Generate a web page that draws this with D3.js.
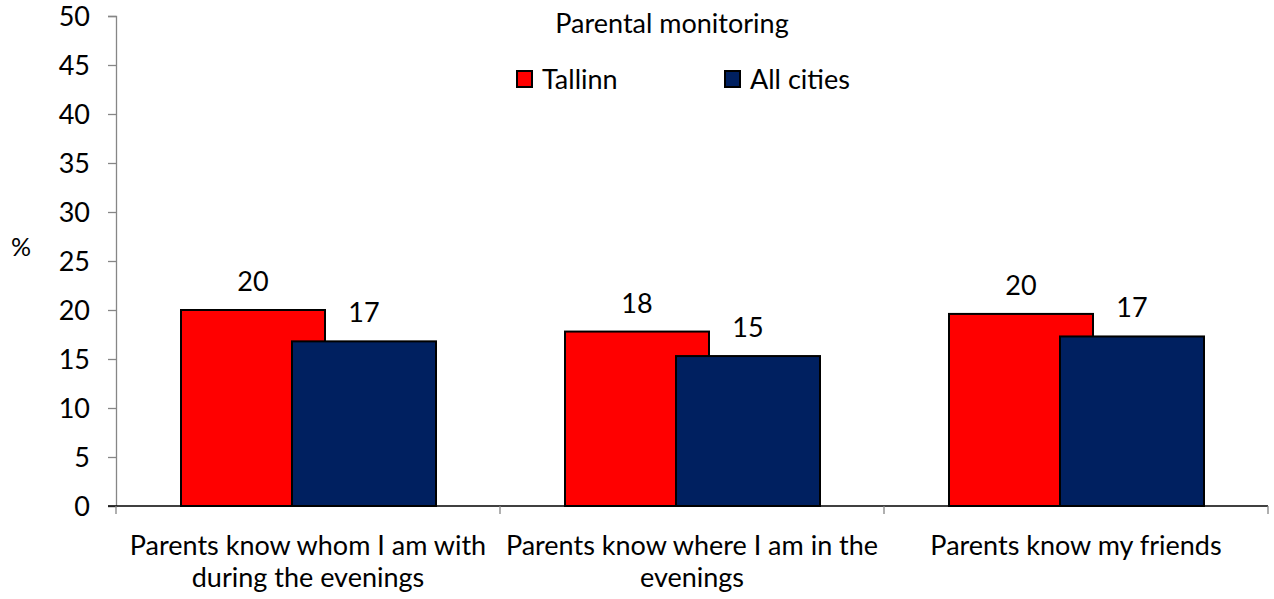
<!DOCTYPE html>
<html>
<head>
<meta charset="utf-8">
<script src="https://cdn.jsdelivr.net/npm/d3@7"></script>
<style>
  body { margin: 0; background: #fff; }
  text { font-family: Lato, "Noto Sans", sans-serif; fill: #000; }
</style>
</head>
<body>
<div id="container"></div>
<script>
const categories = [
  ["Parents know whom I am with", "during the evenings"],
  ["Parents know where I am in the", "evenings"],
  ["Parents know my friends"]
];
const seriesNames = ["Tallinn", "All cities"];
const tallinn = [20.0, 17.8, 19.6];
const allCities = [16.8, 15.3, 17.3];
const yTicks = [0, 5, 10, 15, 20, 25, 30, 35, 40, 45, 50];
const colors = ["#ff0000", "#002060"];

const width = 1274;
const height = 599;
const plotLeft = 116, plotRight = 1268, plotTop = 16, plotBottom = 506;
const fs = "27px";

const svg = d3.select("#container")
  .append("svg")
  .attr("width", width)
  .attr("height", height);

const keys = categories.map((c, i) => i);
const x0 = d3.scaleBand().domain(keys).range([plotLeft, plotRight]);
const x1 = d3.scaleBand().domain(seriesNames).range([65, 65 + 2 * 111]);
const barWidth = 144;
const y = d3.scaleLinear().domain([0, 50]).range([plotBottom, plotTop]);

const values = [tallinn, allCities];

// bars
seriesNames.forEach((s, si) => {
  const g = svg.append("g");
  g.selectAll("rect")
    .data(values[si])
    .enter()
    .append("rect")
    .attr("x", (d, i) => x0(i) + x1(s))
    .attr("y", d => y(d))
    .attr("width", barWidth)
    .attr("height", d => plotBottom - y(d))
    .attr("fill", colors[si])
    .attr("stroke", "#000")
    .attr("stroke-width", 2);
  g.selectAll("text")
    .data(values[si])
    .enter()
    .append("text")
    .attr("x", (d, i) => x0(i) + x1(s) + barWidth / 2)
    .attr("y", d => y(d) - 19)
    .attr("text-anchor", "middle")
    .style("font-size", fs)
    .text(d => Math.round(d));
});

// y axis
const yAxis = d3.axisLeft(y).tickValues(yTicks).tickSize(8).tickPadding(18);
const ya = svg.append("g")
  .attr("transform", `translate(${plotLeft},0)`)
  .call(yAxis);
ya.select(".domain").attr("stroke", "#868686").attr("stroke-width", 1.3);
ya.selectAll(".tick line").attr("stroke", "#868686").attr("stroke-width", 1.3);
ya.selectAll(".tick text")
  .style("font-size", fs)
  .style("font-family", "Lato, sans-serif")
  .attr("fill", "#000")
  .attr("dy", "0.36em");

// x axis
const xa = svg.append("g").attr("transform", `translate(0,${plotBottom})`);
xa.append("line")
  .attr("x1", plotLeft - 8).attr("x2", plotRight)
  .attr("stroke", "#000").attr("stroke-width", 1.3);
const tickX = keys.map(k => x0(k)).concat([plotRight]);
xa.selectAll(".xt")
  .data(tickX)
  .enter()
  .append("line")
  .attr("x1", d => d).attr("x2", d => d)
  .attr("y1", 0).attr("y2", 8)
  .attr("stroke", "#868686").attr("stroke-width", 1.3);

// category labels
categories.forEach((lines, i) => {
  const t = svg.append("text")
    .attr("x", x0(i) + x0.bandwidth() / 2)
    .attr("y", 555)
    .attr("text-anchor", "middle")
    .style("font-size", fs);
  lines.forEach((ln, j) => {
    t.append("tspan")
      .attr("x", x0(i) + x0.bandwidth() / 2)
      .attr("dy", j === 0 ? 0 : 32)
      .text(ln);
  });
});

// y title
svg.append("text")
  .attr("x", 21).attr("y", 256)
  .attr("text-anchor", "middle")
  .style("font-size", "25px")
  .text("%");

// chart title
svg.append("text")
  .attr("x", 672).attr("y", 33)
  .attr("text-anchor", "middle")
  .style("font-size", fs)
  .text("Parental monitoring");

// legend
const legendX = [517, 725];
seriesNames.forEach((s, si) => {
  svg.append("rect")
    .attr("x", legendX[si]).attr("y", 71)
    .attr("width", 15).attr("height", 16)
    .attr("fill", colors[si])
    .attr("stroke", "#000").attr("stroke-width", 2);
  svg.append("text")
    .attr("x", legendX[si] + 25).attr("y", 89)
    .style("font-size", fs)
    .text(s);
});
</script>
</body>
</html>
